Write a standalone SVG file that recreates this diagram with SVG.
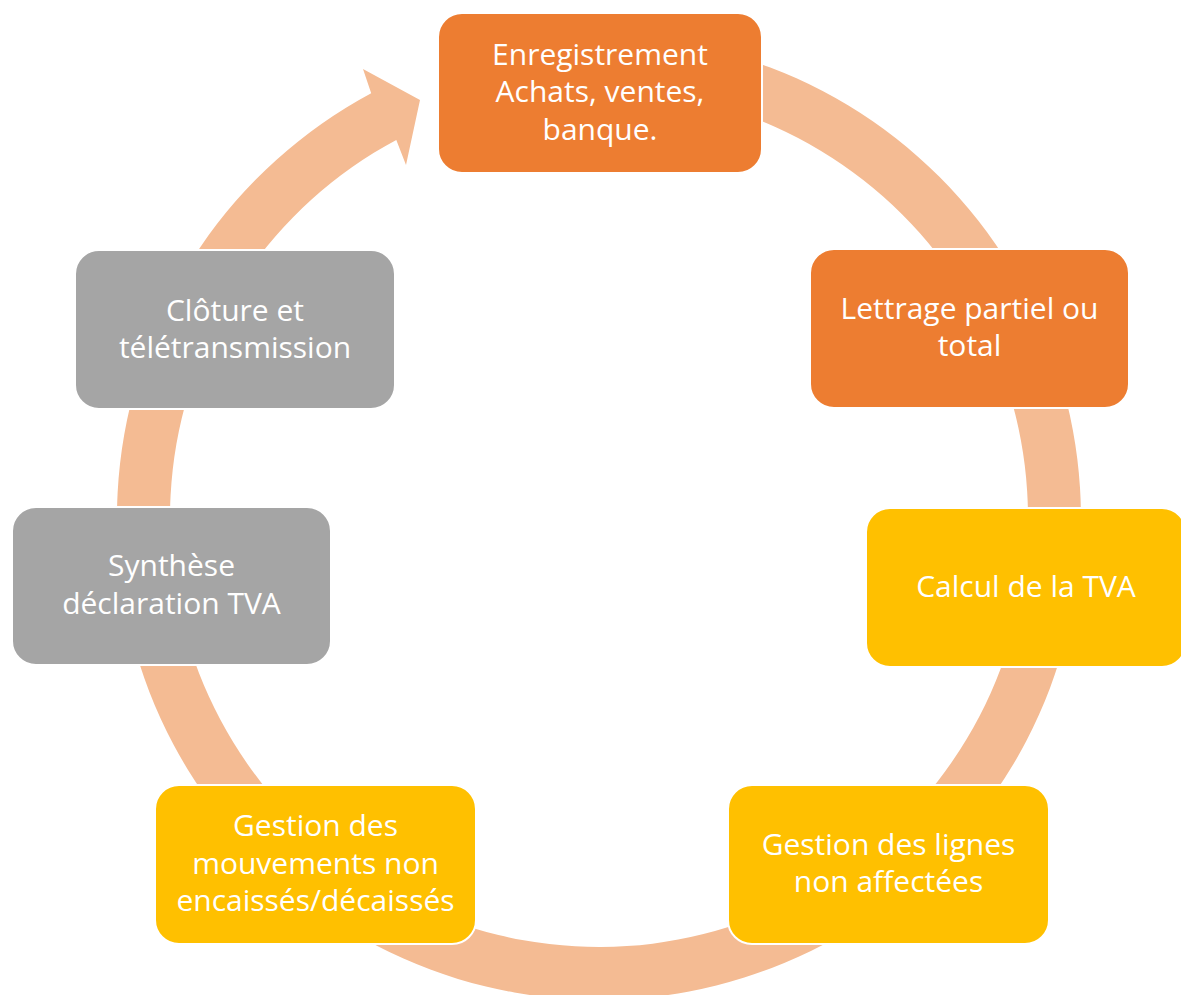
<svg xmlns="http://www.w3.org/2000/svg" width="1181" height="995" viewBox="0 0 1181 995">
  <style>
    .ring { fill: #F4BB93; }
    .node rect { stroke: #FFFFFF; stroke-width: 2; }
    .orange rect { fill: #ED7D31; }
    .yellow rect { fill: #FFC000; }
    .gray rect { fill: #A5A5A5; }
    .node text { font-family: "Open Sans", "Liberation Sans", sans-serif; font-size: 30px; fill: #FFFFFF; text-anchor: middle; }
  </style>
  <rect width="1181" height="995" fill="#FFFFFF"/>

  <!-- circular arrow ring, centre (599,518), radii 482/429, arrowhead ending near the first step -->
  <g id="connectors">
    <path class="ring" d="M599,36 A482,482 0 1,1 371.2,93.2 L363,69 L420,100 L406,165 L396.3,139.9 A429,429 0 1,0 599,89 Z"/>
  </g>

  <g id="node-enregistrement" class="node orange">
    <rect x="438" y="13" width="324" height="160" rx="24" ry="24"/>
    <text><tspan x="600" y="64.5">Enregistrement</tspan><tspan x="600" y="102">Achats, ventes,</tspan><tspan x="600" y="139.5">banque.</tspan></text>
  </g>

  <g id="node-lettrage" class="node orange">
    <rect x="810" y="249" width="319" height="159" rx="24" ry="24"/>
    <text><tspan x="969.5" y="318.75">Lettrage partiel ou</tspan><tspan x="969.5" y="356.25">total</tspan></text>
  </g>

  <g id="node-calcul-tva" class="node yellow">
    <rect x="866" y="508" width="320" height="159" rx="24" ry="24"/>
    <text><tspan x="1026" y="596.5">Calcul de la TVA</tspan></text>
  </g>

  <g id="node-lignes" class="node yellow">
    <rect x="728" y="785" width="321" height="159" rx="24" ry="24"/>
    <text><tspan x="888.5" y="854.75">Gestion des lignes</tspan><tspan x="888.5" y="892.25">non affectées</tspan></text>
  </g>

  <g id="node-mouvements" class="node yellow">
    <rect x="155" y="785" width="321" height="159" rx="24" ry="24"/>
    <text><tspan x="315.5" y="836">Gestion des</tspan><tspan x="315.5" y="873.5">mouvements non</tspan><tspan x="315.5" y="911">encaissés/décaissés</tspan></text>
  </g>

  <g id="node-synthese" class="node gray">
    <rect x="12" y="507" width="319" height="158" rx="24" ry="24"/>
    <text><tspan x="171.5" y="576.25">Synthèse</tspan><tspan x="171.5" y="613.75">déclaration TVA</tspan></text>
  </g>

  <g id="node-cloture" class="node gray">
    <rect x="75" y="250" width="320" height="159" rx="24" ry="24"/>
    <text><tspan x="235" y="320.75">Clôture et</tspan><tspan x="235" y="358.25">télétransmission</tspan></text>
  </g>
</svg>
